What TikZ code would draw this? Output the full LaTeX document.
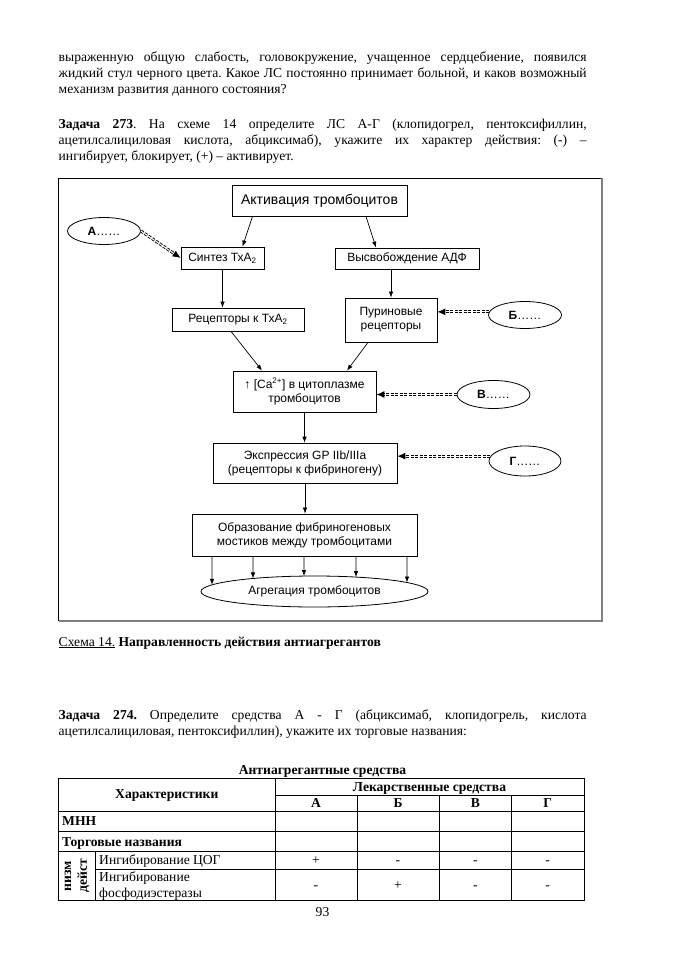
\documentclass[tikz,border=0pt]{standalone}
\usepackage{fontspec}
\setmainfont{Liberation Serif}
\setsansfont{Liberation Sans}
\usetikzlibrary{shapes,arrows.meta,positioning,calc,intersections}

\begin{document}
\frenchspacing
\begin{tikzpicture}[
        x=1pt, y=-1pt,
        txt/.style = {anchor=base west, inner sep=0pt, font=\fontsize{13.6}{16}\selectfont},
        tabtxt/.style = {anchor=base, inner sep=0pt, font=\fontsize{13.6}{15.7}\selectfont},
        tabhead/.style = {tabtxt, font=\bfseries\fontsize{13.6}{15.7}\selectfont},
        block/.style = {rectangle, draw, line width=0.8pt, fill=white, align=center, inner sep=0pt, font=\sffamily\fontsize{12}{14}\selectfont},
        drug/.style = {ellipse, draw, line width=0.8pt, inner sep=0pt, font=\sffamily\fontsize{12}{14}\selectfont},
        line/.style = {draw, line width=0.7pt, -{Latex[length=6pt,width=4.5pt]}},
        inhib/.style = {draw, double, double distance=1.1pt, line width=0.9pt, dash pattern=on 3pt off 1.5pt, -{Latex[length=8pt,width=7pt]}}
    ]
    \useasboundingbox (0,0) rectangle (678,960);

        % Text above the scheme
        \node[txt] (t1) at (58.5,62) {\makebox[528pt][s]{выраженную общую слабость, головокружение, учащенное сердцебиение, появился}};
        \node[txt] (t2) at (58.5,78) {\makebox[528pt][s]{жидкий стул черного цвета. Какое ЛС постоянно принимает больной, и каков возможный}};
        \node[txt] (t3) at (58.5,94) {механизм развития данного состояния?};
        \node[txt] (t4) at (58.5,128.5) {\makebox[528pt][s]{\textbf{Задача 273}. На схеме 14 определите ЛС А-Г (клопидогрел, пентоксифиллин,}};
        \node[txt] (t5) at (58.5,144.5) {\makebox[528pt][s]{ацетилсалициловая кислота, абциксимаб), укажите их характер действия: (-) –}};
        \node[txt] (t6) at (58.5,160.5) {ингибирует, блокирует, (+) – активирует.};

        % Frame of the scheme
        \draw[line width=0.7pt] (58.5,620.7) -- (58.5,178.3) -- (601.7,178.3);
        \draw[line width=2pt, gray] (601.7,178.3) -- (601.7,620.7) -- (58.5,620.7);

        % Place nodes
        \node[block, minimum width=175pt, minimum height=31pt, font=\sffamily\fontsize{14}{16}\selectfont] (act) at (319.5,200.5) {Активация тромбоцитов};
        \node[block, minimum width=83pt, minimum height=22pt] (synth) at (222.5,258) {Синтез ТхА\textsubscript{2}};
        \node[block, minimum width=144pt, minimum height=21pt] (adp) at (407,258.5) {Высвобождение АДФ};
        \node[block, minimum width=132pt, minimum height=23pt] (rec) at (238,319.5) {Рецепторы к ТхА\textsubscript{2}};
        \node[block, minimum width=92pt, minimum height=44pt] (pur) at (391,320) {Пуриновые\\рецепторы};
        \node[block, minimum width=143pt, minimum height=41pt] (ca) at (304.5,391.5) {↑ [Ca\textsuperscript{2+}] в цитоплазме\\тромбоцитов};
        \node[block, minimum width=184pt, minimum height=40pt] (gp) at (305,463) {Экспрессия GP IIb/IIIa\\(рецепторы к фибриногену)};
        \node[block, minimum width=225pt, minimum height=42pt] (form) at (304.5,535) {Образование фибриногеновых\\мостиков между тромбоцитами};
        \node[drug, name path=aggpath, minimum width=227pt, minimum height=31pt] (agg) at (314.5,591.5) {Агрегация тромбоцитов};

        \node[drug, minimum width=73pt, minimum height=27pt] (drugA) at (104,231) {\textbf{А}……};
        \node[drug, minimum width=73pt, minimum height=27pt] (drugB) at (525,315) {\textbf{Б}……};
        \node[drug, minimum width=73pt, minimum height=28pt] (drugV) at (493.5,394.5) {\textbf{В}……};
        \node[drug, minimum width=72pt, minimum height=30pt] (drugG) at (525,461) {\textbf{Г}……};

        % Draw edges
        \draw[line] ($(act.south)+(-67,0)$) -- ($(synth.north)+(20,0)$);
        \draw[line] ($(act.south)+(46.5,0)$) -- ($(adp.north)+(-31,0)$);
        \draw[line] (synth.south) -- (synth.south |- rec.north);
        \draw[line] (adp.south -| pur.north) -- (pur.north);
        \draw[line] ($(rec.south)+(-7,0)$) -- ($(ca.north)+(-42.5,0)$);
        \draw[line] ($(pur.south)+(-23,0)$) -- ($(ca.north)+(42.5,0)$);
        \draw[line] (ca.south) -- (ca.south |- gp.north);
        \draw[line] (gp.south) -- (gp.south |- form.north);
        \foreach \x [count=\i] in {212,253,304,356,407} {
            \path[name path=drop\i] (\x,556) -- (\x,620);
            \draw[line, name intersections={of=aggpath and drop\i}] (form.south -| \x,0) -- (intersection-1);
        }

        \draw[inhib] (drugA.east) -- (synth.west);
        \draw[inhib] (drugB.175) -- (drugB.175 -| pur.east);
        \draw[inhib] (drugV.west) -- (drugV.west -| ca.east);
        \draw[inhib] (drugG.172) -- (drugG.172 -| gp.east);

        % Caption and next task
        \node[txt] (cap) at (58.5,646) {\underline{Схема 14.} \textbf{Направленность действия антиагрегантов}};
        \node[txt] (t7) at (58.5,719.5) {\makebox[528pt][s]{\textbf{Задача 274.} Определите средства А - Г (абциксимаб, клопидогрель, кислота}};
        \node[txt] (t8) at (58.5,735.5) {ацетилсалициловая, пентоксифиллин), укажите их торговые названия:};

        % Table
        \node[tabhead] (ttl) at (322.5,774) {Антиагрегантные средства};
        \draw[line width=0.8pt] (58.5,778.3) rectangle (584,900.7);
        \draw[line width=0.8pt] (275,778.3) -- (275,900.7);
        \draw[line width=0.8pt] (275,795.7) -- (584,795.7);
        \foreach \y in {811,831,851.7} \draw[line width=0.8pt] (58.5,\y) -- (584,\y);
        \draw[line width=0.8pt] (95.4,869) -- (584,869);
        \draw[line width=0.8pt] (95.4,851.7) -- (95.4,900.7);
        \foreach \x in {356.9,439.2,511.5} \draw[line width=0.8pt] (\x,795.7) -- (\x,900.7);

        \node[tabhead] (hchar) at (166.8,798.5) {Характеристики};
        \node[tabhead] (hdrug) at (429.5,791) {Лекарственные средства};
        \foreach \x/\l in {316/А,398/Б,475.3/В,547.7/Г}
            \node[tabhead] at (\x,807) {\l};
        \node[tabhead, anchor=base west] (mnn) at (62,825) {МНН};
        \node[tabhead, anchor=base west] (trade) at (62,846) {Торговые названия};
        \node[tabtxt, anchor=base west] (cox) at (99,864.5) {Ингибирование ЦОГ};
        \node[tabtxt, anchor=base west] (pde1) at (99,881.5) {Ингибирование};
        \node[tabtxt, anchor=base west] (pde2) at (99,897) {фосфодиэстеразы};
        \node[tabhead, anchor=center, rotate=90, align=center] (mech) at (77,876) {низм\\дейст};
        \foreach \x/\a/\b in {316/+/-,398/-/+,475.3/-/-,547.7/-/-} {
            \node[tabtxt] at (\x,864.5) {\a};
            \node[tabtxt] at (\x,889.5) {\b};
        }

        \node[tabtxt] (page) at (322.5,916) {93};
    \end{tikzpicture}
\end{document}
